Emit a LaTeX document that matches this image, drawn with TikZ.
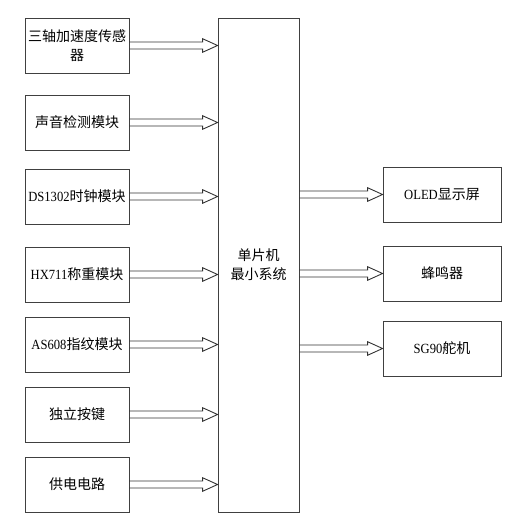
\documentclass[tikz,border=0pt]{standalone}
\usepackage{fontspec}
\setmainfont{Noto Sans CJK SC}
\newfontfamily\latinfont[FakeStretch=0.9]{Liberation Serif}
\usetikzlibrary{calc}

% hollow block arrow from #1 to #2 (horizontal)
\newcommand{\blockarrow}[2]{%
    \draw [ArrowB] ($(#1)+(0,-3.5)$) -- ($(#2)+(-15,-3.5)$) -- ($(#2)+(-15,-6.8)$)
        -- (#2) -- ($(#2)+(-15,6.8)$) -- ($(#2)+(-15,3.5)$) -- ($(#1)+(0,3.5)$);}

\begin{document}
\begin{tikzpicture}[
    % GLOBAL CFG
    x=1pt, y=-1pt,
    font=\fontsize{14}{19}\selectfont,
    % Styles
    module/.style={% For the input modules
        rectangle,
        draw=black!75,
        line width=0.9pt,
        minimum width=104pt,
        minimum height=55pt,
        inner sep=1pt,
        align=center,
        },
    periph/.style={% For the output devices
        module,
        minimum width=118pt,
        },
    mcu/.style={% For the main box
        rectangle,
        draw=black!75,
        line width=0.9pt,
        minimum width=81pt,
        minimum height=494pt,
        align=center,
        },
    ArrowB/.style={% Hollow block arrows
        draw=black!80,
        line width=0.9pt,
        line join=miter,
        },
    ]

    \useasboundingbox (0,0) rectangle (515,518);

    % Draw the main box
    \node [mcu] (mcu) at (258.5,265) {单片机\\最小系统};

    % Draw inputs named in#
    \node [module] (in1) at (77,45.5) {三轴加速度传感\\器};
    \node [module] (in2) at (77,122.5) {声音检测模块};
    \node [module] (in3) at (77,196.5) {{\latinfont DS1302}时钟模块};
    \node [module] (in4) at (77,274.5) {{\latinfont HX711}称重模块};
    \node [module] (in5) at (77,344.5) {{\latinfont AS608}指纹模块};
    \node [module] (in6) at (77,414.5) {独立按键};
    \node [module] (in7) at (77,484.5) {供电电路};

    % Draw outputs named out#
    \node [periph] (out1) at (442,194.5) {{\latinfont OLED}显示屏};
    \node [periph] (out2) at (442,273.5) {蜂鸣器};
    \node [periph] (out3) at (442,348.5) {{\latinfont SG90}舵机};

    % Inputs to the main box
    \foreach \i in {1,...,7}
        \blockarrow{in\i.east}{mcu.west |- in\i.east};

    % Main box to outputs
    \foreach \i in {1,2,3}
        \blockarrow{mcu.east |- out\i.west}{out\i.west};

\end{tikzpicture}
\end{document}
